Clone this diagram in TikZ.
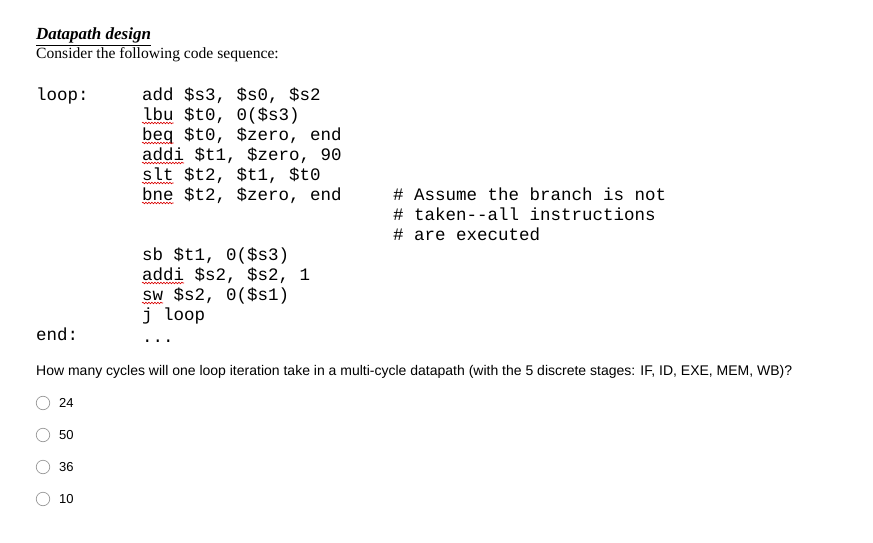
\documentclass[tikz,border=0pt]{standalone}
\usepackage{fontspec}
\setmainfont{Liberation Serif}
\setsansfont{Liberation Sans}
\setmonofont{Liberation Mono}
\usetikzlibrary{decorations.pathmorphing}
\begin{document}
\begin{tikzpicture}[x=1pt,y=-1pt,
  code/.style={anchor=base west,inner sep=0pt,font=\fontsize{17.5}{19}\ttfamily},
  ser/.style={anchor=base west,inner sep=0pt,font=\fontsize{15.6}{17}\selectfont},
  q/.style={anchor=base west,inner sep=0pt,font=\fontsize{14}{16}\sffamily},
  sq/.style={red!85!black,line width=0.6pt,decorate,decoration={snake,segment length=3pt,amplitude=0.8pt}},
  radio/.style={circle,draw=gray!80,line width=0.7pt,minimum size=13.5pt,inner sep=0pt}]
\useasboundingbox (0,0) rectangle (873,543);
\node[ser,font=\fontsize{17}{19}\bfseries\itshape] (t) at (36,40) {\underline{Datapath design}};
\node[ser] (c) at (36,59) {Consider the following code sequence:};
\node[code] (loop) at (36,100) {loop:};
\def\cw{10.5}
\foreach \n/\y/\s/\w in {a/100/{add \$s3, \$s0, \$s2}/0, b/120/{lbu \$t0, 0(\$s3)}/3, c/140/{beq \$t0, \$zero, end}/3, d/160/{addi \$t1, \$zero, 90}/4, e/180/{slt \$t2, \$t1, \$t0}/3, f/200/{bne \$t2, \$zero, end}/3, g/260/{sb \$t1, 0(\$s3)}/0, h/280/{addi \$s2, \$s2, 1}/4, i/300/{sw \$s2, 0(\$s1)}/2, j/320/{j loop}/0}{
  \node[code] (\n) at (142,\y) {\s};
  \ifnum\w>0 \draw[sq] (142,\y+3) -- ++(\w*\cw,0); \fi
}
\node[code] (m1) at (393,200) {\# Assume the branch is not};
\node[code] (m2) at (393,220) {\# taken--{}all instructions};
\node[code] (m3) at (393,240) {\# are executed};
\node[code] (end) at (36,340) {end:};
\node[code] (dots) at (142,342) {...};
\node[q] (qq) at (36,375) {How many cycles will one loop iteration take in a multi-cycle datapath (with the 5 discrete stages: IF, ID, EXE, MEM, WB)?};
\foreach \n/\y/\t in {1/403/24, 2/435/50, 3/467/36, 4/499/10}{
  \node[radio] (r\n) at (43,\y) {};
  \node[q,anchor=west,font=\fontsize{13}{15}\sffamily] (l\n) at (59,\y) {\t};
}
\end{tikzpicture}
\end{document}
